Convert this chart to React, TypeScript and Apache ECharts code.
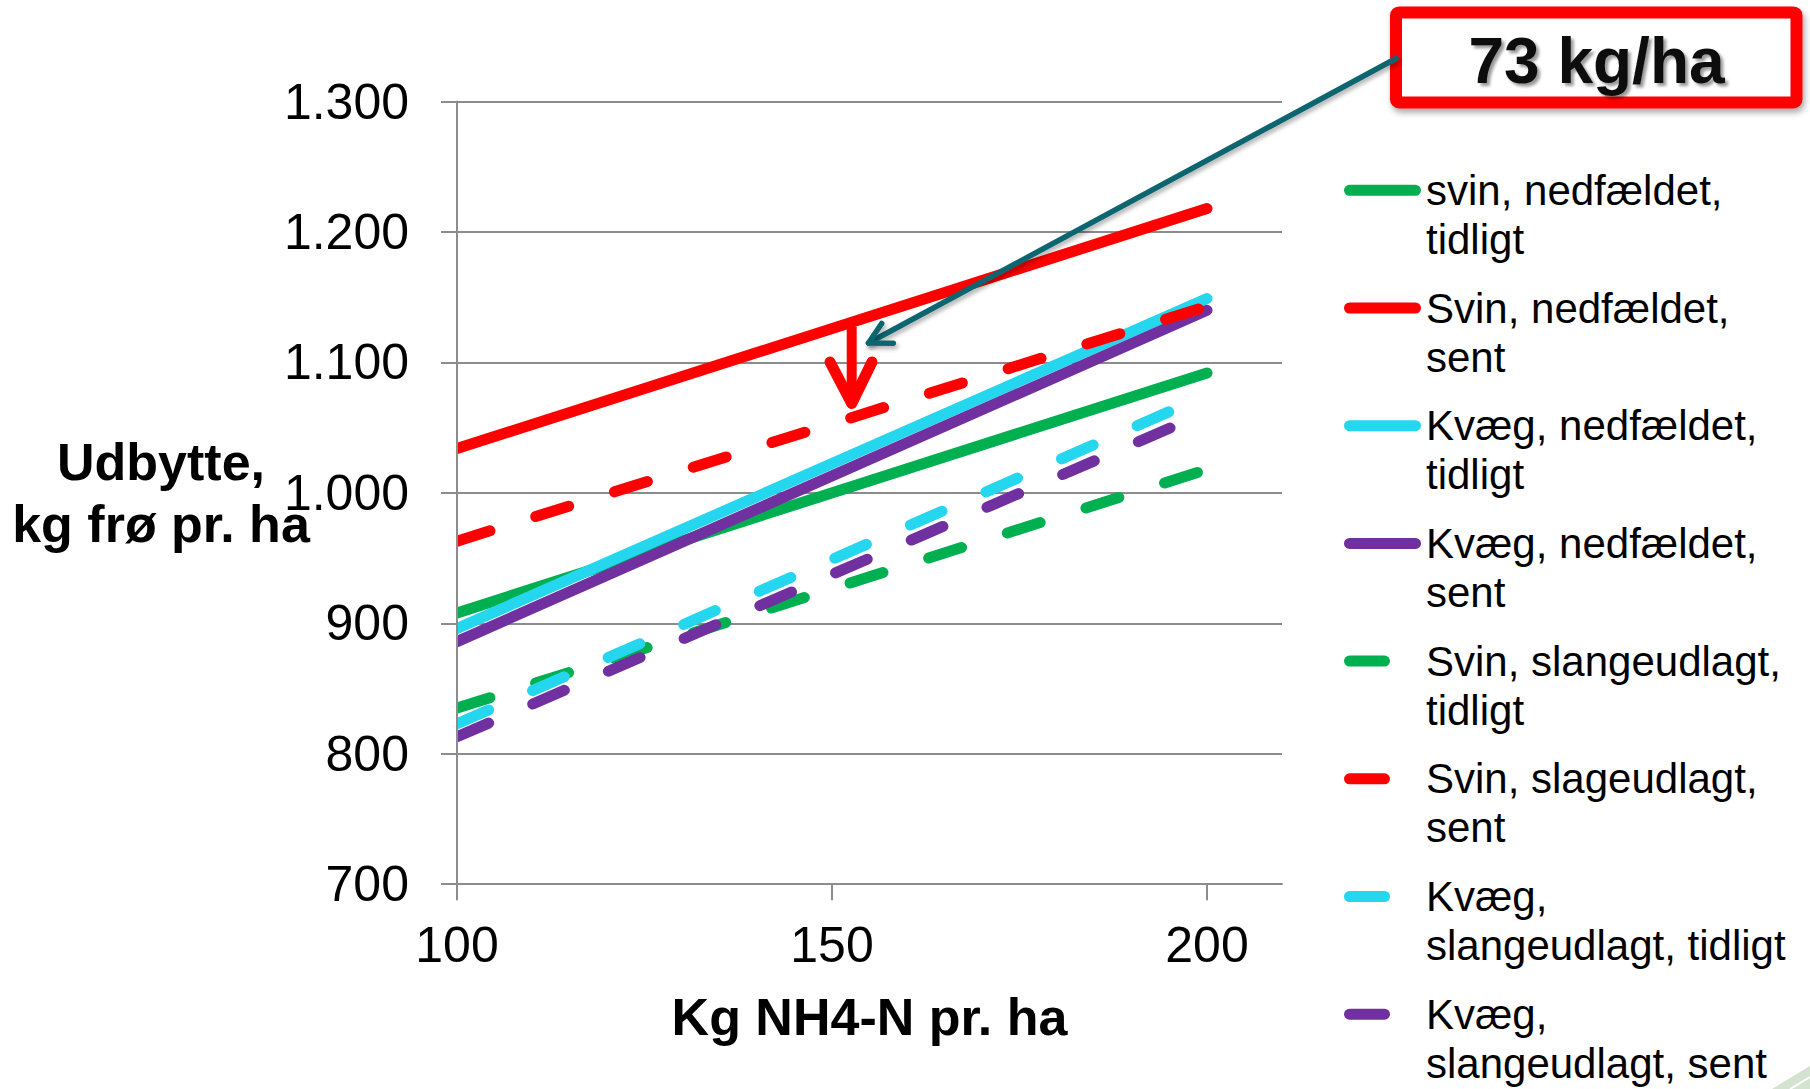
import React, { useEffect, useRef } from "react";
import * as echarts from "echarts";

const FONT = '"Liberation Sans", Arial, Helvetica, sans-serif';

// X positions of the regression lines (kg NH4-N pr. ha)
const xValues = [100, 200];

// Yield (kg frø pr. ha) at x = 100 and x = 200
const svinNedfTidligt = [908, 1092];
const svinNedfSent = [1034, 1218];
const kvaegNedfTidligt = [896, 1149];
const kvaegNedfSent = [886, 1140];
const svinSlangeTidligt = [835, 1018];
const svinSlageSent = [963, 1143];
const kvaegSlangeTidligt = [823, 1075];
const kvaegSlangeSent = [813, 1062];

const seriesNames = [
  "svin, nedfældet, tidligt",
  "Svin, nedfældet, sent",
  "Kvæg, nedfældet, tidligt",
  "Kvæg, nedfældet, sent",
  "Svin, slangeudlagt, tidligt",
  "Svin, slageudlagt, sent",
  "Kvæg, slangeudlagt, tidligt",
  "Kvæg, slangeudlagt, sent",
];
const legendLabels = [
  "svin, nedfældet,\ntidligt",
  "Svin, nedfældet,\nsent",
  "Kvæg, nedfældet,\ntidligt",
  "Kvæg, nedfældet,\nsent",
  "Svin, slangeudlagt,\ntidligt",
  "Svin, slageudlagt,\nsent",
  "Kvæg,\nslangeudlagt, tidligt",
  "Kvæg,\nslangeudlagt, sent",
];
const seriesValues = [
  svinNedfTidligt,
  svinNedfSent,
  kvaegNedfTidligt,
  kvaegNedfSent,
  svinSlangeTidligt,
  svinSlageSent,
  kvaegSlangeTidligt,
  kvaegSlangeSent,
];
const seriesColors = [
  "#00B050",
  "#FF0000",
  "#24D6EE",
  "#7030A0",
  "#00B050",
  "#FF0000",
  "#24D6EE",
  "#7030A0",
];
const seriesDashed = [false, false, false, false, true, true, true, true];

const yTickValues = [700, 800, 900, 1000, 1100, 1200, 1300];
const yTickLabels = ["700", "800", "900", "1.000", "1.100", "1.200", "1.300"];
const xTickValues = [100, 150, 200];
const xTickLabels = ["100", "150", "200"];

const calloutText = "73 kg/ha";

const SOLID_ICON =
  "path://M5.5,0 L71.5,0 A5.5,5.5,0,0,1,71.5,11 L5.5,11 A5.5,5.5,0,0,1,5.5,0 Z";
const DASH_ICON =
  "path://M5.5,0 L40.5,0 A5.5,5.5,0,0,1,40.5,11 L5.5,11 A5.5,5.5,0,0,1,5.5,0 Z M77,11";

const GRID_COLOR = "#8c8c8c";
const TEAL = "#0f6570";

export default function App() {
  const ref = useRef<HTMLDivElement>(null);

  useEffect(() => {
    if (!ref.current) return;
    const chart = echarts.init(ref.current, null, { renderer: "svg" });

    const series = seriesNames.map((name, i) => ({
      name,
      type: "line",
      data: xValues.map((x, j) => [x, seriesValues[i][j]]),
      showSymbol: false,
      symbol: "none",
      silent: true,
      emphasis: { disabled: true },
      itemStyle: { color: seriesColors[i] },
      lineStyle: {
        color: seriesColors[i],
        width: 11,
        type: seriesDashed[i] ? [34.5, 48] : "solid",
        cap: "round",
        join: "round",
      },
      z: 2,
    }));

    const option: any = {
      animation: false,
      backgroundColor: "#ffffff",
      textStyle: { fontFamily: FONT },
      grid: {
        left: 457,
        top: 101.6,
        width: 825,
        height: 782.6,
        containLabel: false,
        outerBoundsMode: "none",
      },
      xAxis: {
        type: "value",
        min: 100,
        max: 210,
        interval: 50,
        axisLine: { show: true, lineStyle: { color: GRID_COLOR, width: 2 } },
        axisTick: {
          show: true,
          length: 16,
          customValues: xTickValues,
          lineStyle: { color: GRID_COLOR, width: 2 },
        },
        axisLabel: {
          customValues: xTickValues,
          formatter: (v: number) => xTickLabels[xTickValues.indexOf(v)] ?? "",
          fontSize: 50,
          color: "#000",
          fontFamily: FONT,
          margin: 36,
        },
        splitLine: { show: false },
        name: "Kg NH4-N pr. ha",
        nameLocation: "middle",
        nameGap: 133,
        nameMoveOverlap: false,
        nameTextStyle: {
          fontSize: 52,
          fontWeight: "bold",
          color: "#000",
          fontFamily: FONT,
          align: "center",
          verticalAlign: "middle",
        },
      },
      yAxis: [
        {
          type: "value",
          min: 700,
          max: 1300,
          interval: 100,
          z: 10,
          axisLine: { show: true, lineStyle: { color: GRID_COLOR, width: 2 } },
          axisTick: {
            show: true,
            length: 16,
            lineStyle: { color: GRID_COLOR, width: 2 },
          },
          axisLabel: {
            formatter: (v: number) => yTickLabels[yTickValues.indexOf(v)] ?? "",
            fontSize: 50,
            color: "#000",
            fontFamily: FONT,
            margin: 48,
          },
          splitLine: { show: false },
          name: "Udbytte,\nkg frø pr. ha",
          nameLocation: "middle",
          nameRotate: 0,
          nameGap: 296,
          nameMoveOverlap: false,
          nameTextStyle: {
            fontSize: 52,
            fontWeight: "bold",
            color: "#000",
            fontFamily: FONT,
            align: "center",
            verticalAlign: "middle",
            lineHeight: 61.5,
          },
        },
        {
          type: "value",
          min: 700,
          max: 1300,
          interval: 100,
          z: 0,
          axisLine: { show: false },
          axisTick: { show: false },
          axisLabel: { show: false },
          splitLine: {
            show: true,
            lineStyle: { color: GRID_COLOR, width: 2 },
          },
        },
      ],
      legend: {
        orient: "vertical",
        left: 1344,
        top: 116.8,
        height: 1200,
        padding: 0,
        itemGap: -29.3,
        itemWidth: 77,
        itemHeight: 11,
        selectedMode: false,
        itemStyle: { borderWidth: 0 },
        textStyle: {
          fontSize: 42,
          lineHeight: 49,
          color: "#000",
          fontFamily: FONT,
        },
        // a leading empty line puts the first text line level with the icon
        formatter: (name: string) =>
          "\n" + legendLabels[seriesNames.indexOf(name)],
        data: seriesNames.map((name, i) => ({
          name,
          icon: seriesDashed[i] ? DASH_ICON : SOLID_ICON,
        })),
      },
      series,
      graphic: [
        // hides round line caps left of the y axis (axis itself drawn above)
        {
          type: "rect",
          z: 5,
          silent: true,
          shape: { x: 440, y: 425, width: 16.5, height: 330 },
          style: { fill: "#ffffff" },
        },
        // red difference arrow
        {
          type: "line",
          z: 20,
          silent: true,
          shape: { x1: 851.7, y1: 327, x2: 851.7, y2: 402 },
          style: { stroke: "#FF0000", lineWidth: 10 },
        },
        {
          type: "polyline",
          z: 20,
          silent: true,
          shape: {
            points: [
              [830, 362],
              [851.7, 403.5],
              [872, 362],
            ],
          },
          style: {
            stroke: "#FF0000",
            fill: null,
            lineWidth: 11,
            lineCap: "round",
            lineJoin: "round",
          },
        },
        // callout box
        {
          type: "rect",
          z: 20,
          silent: true,
          shape: { x: 1396, y: 12.4, width: 400.5, height: 90, r: 3 },
          style: {
            fill: "#ffffff",
            stroke: "#FF0000",
            lineWidth: 12,
            shadowBlur: 6,
            shadowColor: "rgba(0,0,0,0.35)",
            shadowOffsetX: 2,
            shadowOffsetY: 4,
          },
        },
        {
          type: "text",
          z: 21,
          silent: true,
          x: 1596.5,
          y: 60.5,
          style: {
            text: calloutText,
            fontSize: 64,
            fontWeight: "bold",
            fontFamily: FONT,
            fill: "#111111",
            align: "center",
            verticalAlign: "middle",
            textShadowColor: "rgba(0,0,0,0.4)",
            textShadowBlur: 3,
            textShadowOffsetX: 3,
            textShadowOffsetY: 3,
          },
        },
        // teal connector with open arrow head
        {
          type: "line",
          z: 22,
          silent: true,
          shape: { x1: 1396, y1: 58.5, x2: 868.5, y2: 343 },
          style: {
            stroke: TEAL,
            lineWidth: 5.5,
            lineCap: "round",
            shadowBlur: 4,
            shadowColor: "rgba(0,0,0,0.3)",
            shadowOffsetX: 2,
            shadowOffsetY: 3,
          },
        },
        {
          type: "polyline",
          z: 22,
          silent: true,
          shape: {
            points: [
              [881.7, 323.5],
              [868.5, 343],
              [893.3, 343.3],
            ],
          },
          style: {
            stroke: TEAL,
            fill: null,
            lineWidth: 5.5,
            lineCap: "round",
            lineJoin: "round",
            shadowBlur: 4,
            shadowColor: "rgba(0,0,0,0.3)",
            shadowOffsetX: 2,
            shadowOffsetY: 3,
          },
        },
        // slide decoration in the lower right corner
        {
          type: "polygon",
          z: 1,
          silent: true,
          shape: {
            points: [
              [1772, 1089],
              [1810, 1066],
              [1810, 1089],
            ],
          },
          style: { fill: "#d3e3cf" },
        },
        {
          type: "line",
          z: 1,
          silent: true,
          shape: { x1: 1790, y1: 1089, x2: 1810, y2: 1077 },
          style: { stroke: "#ffffff", lineWidth: 2 },
        },
      ],
    };

    chart.setOption(option);
    return () => chart.dispose();
  }, []);

  return (
    <div
      ref={ref}
      style={{ position: "fixed", left: 0, top: 0, width: 1810, height: 1089 }}
    />
  );
}
